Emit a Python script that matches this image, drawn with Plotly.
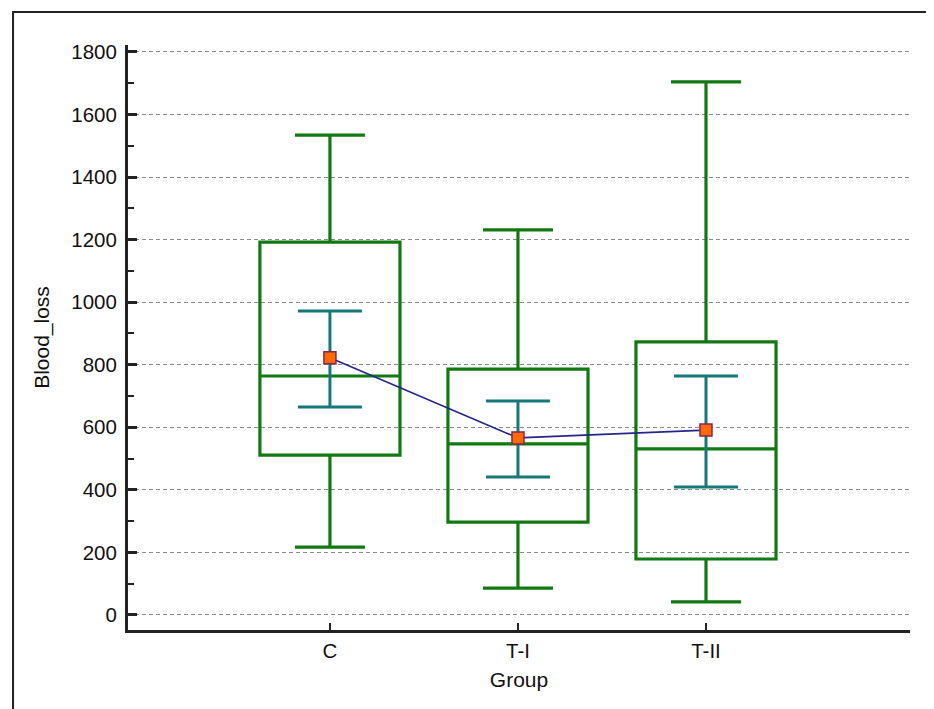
import plotly.graph_objects as go

groups = ["C", "T-I", "T-II"]
whisker_low = [217, 86, 42]
q1 = [511, 297, 179]
median = [764, 547, 531]
q3 = [1192, 786, 873]
whisker_high = [1534, 1231, 1704]
mean = [822, 566, 591]
ci_low = [665, 441, 409]
ci_high = [972, 684, 764]

y_ticks = [0, 200, 400, 600, 800, 1000, 1200, 1400, 1600, 1800]

xpos = list(range(len(groups)))
green = "#127812"
teal = "#17787a"

fig = go.Figure()
fig.add_trace(go.Box(
    x=xpos, q1=q1, median=median, q3=q3,
    lowerfence=whisker_low, upperfence=whisker_high,
    width=0.745, whiskerwidth=0.5, boxpoints=False,
    fillcolor="rgba(255,255,255,0)",
    line=dict(color=green, width=3.2),
    hoverinfo="skip", showlegend=False,
))
fig.add_trace(go.Scatter(
    x=xpos, y=mean, mode="markers",
    marker=dict(size=1, color="rgba(0,0,0,0)"),
    error_y=dict(type="data", symmetric=False,
                 array=[h - m for h, m in zip(ci_high, mean)],
                 arrayminus=[m - l for m, l in zip(mean, ci_low)],
                 color=teal, thickness=3, width=32),
    showlegend=False, hoverinfo="skip",
))
fig.add_trace(go.Scatter(
    x=xpos, y=mean, mode="lines+markers",
    line=dict(color="#25258a", width=1.6),
    marker=dict(symbol="square", size=12, color="#ff6a00",
                line=dict(color="#8b2252", width=1.5)),
    showlegend=False,
))

fam = "Liberation Sans, Arial, sans-serif"
tickfont = dict(family=fam, size=20.5, color="#111")
titlefont = dict(family=fam, size=21, color="#111")

fig.update_layout(
    width=934, height=709,
    margin=dict(l=120, r=32, t=37, b=87),
    paper_bgcolor="white", plot_bgcolor="white",
    font=dict(family=fam, size=20, color="#111"),
    xaxis=dict(
        range=[-1.074, 3.085], tickvals=xpos, ticktext=groups,
        showgrid=False, zeroline=False,
        showline=True, linecolor="#222", linewidth=3,
        ticks="inside", ticklen=7, tickwidth=2, tickcolor="#222",
        tickfont=tickfont,
        title=dict(text="Group", standoff=12, font=titlefont),
        ticklabelstandoff=0,
    ),
    yaxis=dict(
        range=[-48, 1822], tickvals=y_ticks,
        showgrid=True, gridcolor="#8a8a8a", gridwidth=1, griddash="4px,3px",
        zeroline=False,
        showline=True, linecolor="#222", linewidth=3,
        ticks="inside", ticklen=9, tickwidth=2.5, tickcolor="#222",
        minor=dict(dtick=100, ticks="inside", ticklen=6, tickwidth=1.5,
                   tickcolor="#222", showgrid=False),
        tickfont=tickfont,
        title=dict(text="Blood_loss", standoff=16, font=titlefont),
        ticklabelstandoff=4,
    ),
    shapes=[
        dict(type="rect", xref="paper", yref="paper",
             x0=-0.147, x1=1.2, y0=-0.3, y1=1.0564,
             line=dict(color="#222", width=2), layer="below"),
    ],
)

fig.write_html("out.html")
